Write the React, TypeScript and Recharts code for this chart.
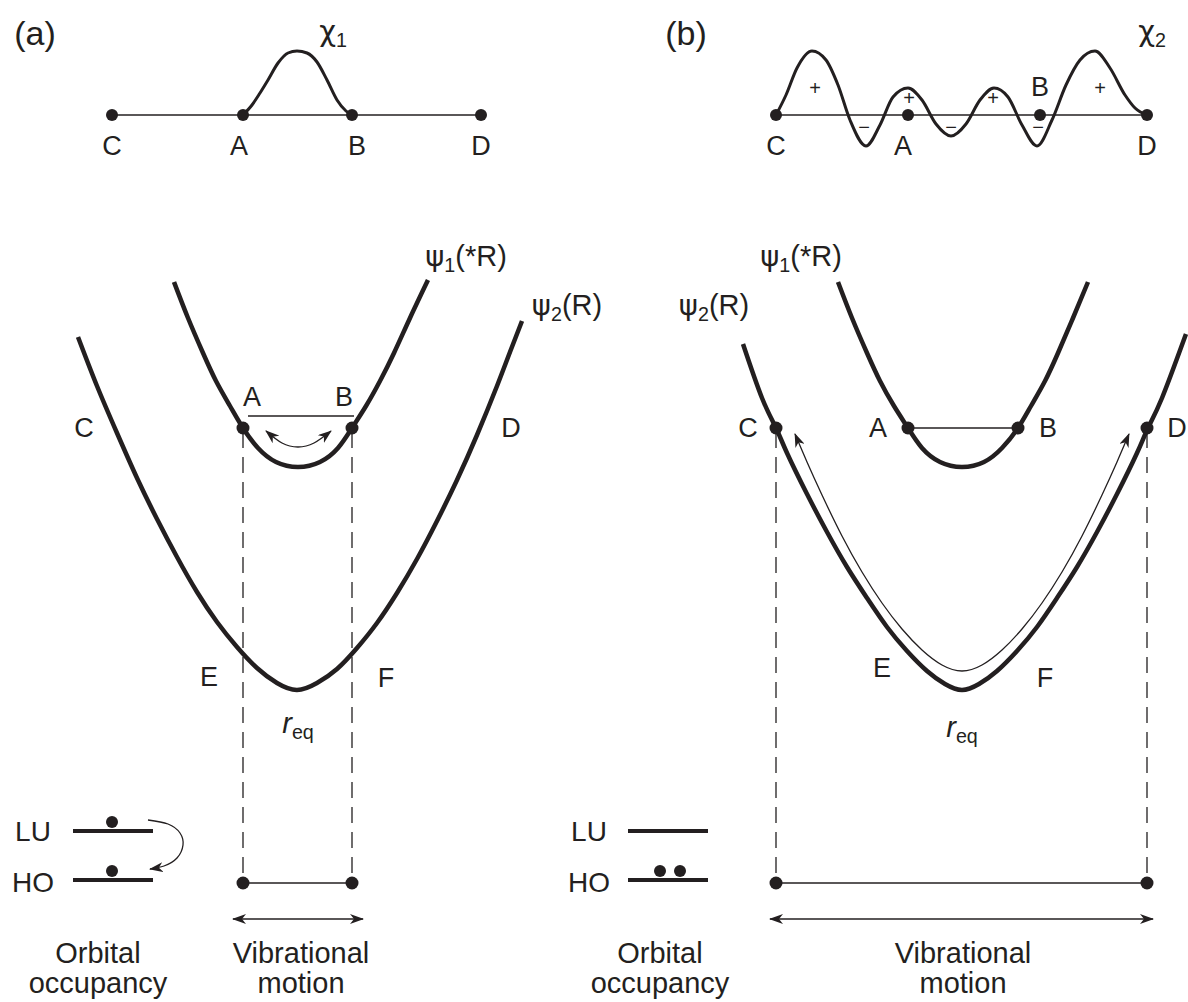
import React from "react";
import { ComposedChart, Line, Scatter, XAxis, YAxis } from "recharts";

const W = 1188;
const H = 1002;
const INK = "#231f20";
const FONT = "'Liberation Sans', Arial, Helvetica, sans-serif";
const GREEK = "'DejaVu Sans', 'Liberation Sans', sans-serif";

type Pt = { x: number; y: number };

// ---- (a) top: chi_1 on the C..D coordinate
const chi1Axis: Pt[] = [{ x: 112, y: 115 }, { x: 481, y: 115 }];
const chi1Wave: Pt[] = [
  { x: 243, y: 115 }, { x: 252, y: 105 }, { x: 260, y: 93 }, { x: 268, y: 80 },
  { x: 278, y: 63 }, { x: 288, y: 53 }, { x: 297, y: 51 }, { x: 307, y: 53 },
  { x: 317, y: 62 }, { x: 327, y: 80 }, { x: 337, y: 100 }, { x: 346, y: 111 },
  { x: 352, y: 115 },
];
const chi1Dots: Pt[] = [{ x: 112, y: 115 }, { x: 243, y: 115 }, { x: 352, y: 115 }, { x: 481, y: 115 }];

// ---- (b) top: chi_2
const chi2Axis: Pt[] = [{ x: 776, y: 115 }, { x: 1147, y: 115 }];
const chi2Wave: Pt[] = [
  { x: 776, y: 115 }, { x: 786, y: 95 }, { x: 797, y: 68 }, { x: 812, y: 51 },
  { x: 826, y: 60 }, { x: 838, y: 85 }, { x: 850, y: 120 }, { x: 866, y: 146 },
  { x: 880, y: 125 }, { x: 893, y: 97 }, { x: 908, y: 88 }, { x: 922, y: 100 },
  { x: 936, y: 124 }, { x: 951, y: 136 }, { x: 966, y: 124 }, { x: 980, y: 100 },
  { x: 994, y: 88 }, { x: 1008, y: 97 }, { x: 1022, y: 125 }, { x: 1037, y: 146 },
  { x: 1052, y: 120 }, { x: 1066, y: 85 }, { x: 1080, y: 60 }, { x: 1095, y: 51 },
  { x: 1110, y: 68 }, { x: 1125, y: 95 }, { x: 1135, y: 108 }, { x: 1147, y: 115 },
];
const chi2Dots: Pt[] = [{ x: 776, y: 115 }, { x: 908, y: 115 }, { x: 1040, y: 115 }, { x: 1147, y: 115 }];

// ---- (a) potential curves
const psi1A: Pt[] = [
  { x: 174, y: 282 }, { x: 188, y: 318 }, { x: 203, y: 353 }, { x: 216, y: 381 },
  { x: 230, y: 406 }, { x: 243, y: 428 }, { x: 258, y: 448 }, { x: 276, y: 462 },
  { x: 298, y: 467 }, { x: 320, y: 462 }, { x: 338, y: 448 }, { x: 352, y: 428 },
  { x: 366, y: 406 }, { x: 380, y: 381 }, { x: 394, y: 353 }, { x: 410, y: 318 },
  { x: 428, y: 280 },
];
const psi2A: Pt[] = [
  { x: 78, y: 337 }, { x: 97, y: 386 }, { x: 117, y: 433 }, { x: 137, y: 478 },
  { x: 157, y: 519 }, { x: 177, y: 557 }, { x: 197, y: 592 }, { x: 217, y: 622 },
  { x: 237, y: 647 }, { x: 257, y: 668 }, { x: 277, y: 683 }, { x: 297, y: 690 },
  { x: 317, y: 683 }, { x: 337, y: 669 }, { x: 357, y: 648 }, { x: 377, y: 623 },
  { x: 397, y: 593 }, { x: 417, y: 559 }, { x: 437, y: 521 }, { x: 457, y: 480 },
  { x: 477, y: 435 }, { x: 497, y: 386 }, { x: 510, y: 352 }, { x: 522, y: 321 },
];
const abLevelA: Pt[] = [{ x: 248, y: 416 }, { x: 354, y: 416 }];
const swingA: Pt[] = [{ x: 266, y: 431 }, { x: 282, y: 443 }, { x: 298, y: 447 }, { x: 314, y: 443 }, { x: 331, y: 431 }];
const dropA1: Pt[] = [{ x: 243, y: 432 }, { x: 243, y: 874 }];
const dropA2: Pt[] = [{ x: 352, y: 432 }, { x: 352, y: 874 }];
const spanA: Pt[] = [{ x: 243, y: 883 }, { x: 352, y: 883 }];
const motionA: Pt[] = [{ x: 233, y: 919 }, { x: 363, y: 919 }];
const curveDotsA: Pt[] = [{ x: 243, y: 428 }, { x: 352, y: 428 }, { x: 243, y: 883 }, { x: 352, y: 883 }];

// ---- (a) orbitals
const luA: Pt[] = [{ x: 73, y: 831 }, { x: 153, y: 831 }];
const hoA: Pt[] = [{ x: 73, y: 880 }, { x: 153, y: 880 }];
const hopA: Pt[] = [
  { x: 148, y: 820 }, { x: 168, y: 824 }, { x: 180, y: 833 }, { x: 183, y: 845 },
  { x: 177, y: 858 }, { x: 164, y: 866 }, { x: 150, y: 869 },
];
const electronsA: Pt[] = [{ x: 112, y: 822 }, { x: 112, y: 871 }];

// ---- (b) potential curves
const psi1B: Pt[] = [
  { x: 838, y: 282 }, { x: 852, y: 318 }, { x: 867, y: 353 }, { x: 880, y: 381 },
  { x: 894, y: 406 }, { x: 908, y: 428 }, { x: 922, y: 448 }, { x: 940, y: 462 },
  { x: 962, y: 467 }, { x: 984, y: 462 }, { x: 1002, y: 448 }, { x: 1018, y: 428 },
  { x: 1031, y: 406 }, { x: 1045, y: 381 }, { x: 1058, y: 353 }, { x: 1073, y: 318 },
  { x: 1088, y: 282 },
];
const psi2B: Pt[] = [
  { x: 743, y: 344 }, { x: 762, y: 398 }, { x: 776, y: 428 }, { x: 787, y: 453 },
  { x: 807, y: 494 }, { x: 827, y: 532 }, { x: 847, y: 567 }, { x: 867, y: 598 },
  { x: 887, y: 627 }, { x: 907, y: 651 }, { x: 927, y: 671 }, { x: 945, y: 684 },
  { x: 962, y: 690 }, { x: 979, y: 684 }, { x: 997, y: 671 }, { x: 1017, y: 651 },
  { x: 1037, y: 627 }, { x: 1057, y: 598 }, { x: 1077, y: 567 }, { x: 1097, y: 532 },
  { x: 1117, y: 494 }, { x: 1137, y: 453 }, { x: 1148, y: 428 }, { x: 1162, y: 398 },
  { x: 1186, y: 334 },
];
const swingB: Pt[] = [
  { x: 795, y: 434 }, { x: 807, y: 462 }, { x: 822, y: 495 }, { x: 842, y: 536 },
  { x: 862, y: 572 }, { x: 882, y: 603 }, { x: 902, y: 629 }, { x: 922, y: 650 },
  { x: 942, y: 665 }, { x: 962, y: 671 }, { x: 982, y: 665 }, { x: 1002, y: 650 },
  { x: 1022, y: 629 }, { x: 1042, y: 603 }, { x: 1062, y: 572 }, { x: 1082, y: 536 },
  { x: 1102, y: 495 }, { x: 1117, y: 462 }, { x: 1129, y: 434 },
];
const abLevelB: Pt[] = [{ x: 908, y: 428 }, { x: 1018, y: 428 }];
const dropB1: Pt[] = [{ x: 776, y: 432 }, { x: 776, y: 874 }];
const dropB2: Pt[] = [{ x: 1147, y: 432 }, { x: 1147, y: 874 }];
const spanB: Pt[] = [{ x: 776, y: 883 }, { x: 1147, y: 883 }];
const motionB: Pt[] = [{ x: 770, y: 919 }, { x: 1153, y: 919 }];
const curveDotsB: Pt[] = [
  { x: 776, y: 428 }, { x: 908, y: 428 }, { x: 1018, y: 428 }, { x: 1147, y: 428 },
  { x: 776, y: 883 }, { x: 1147, y: 883 },
];

// ---- (b) orbitals
const luB: Pt[] = [{ x: 628, y: 831 }, { x: 708, y: 831 }];
const hoB: Pt[] = [{ x: 628, y: 880 }, { x: 708, y: 880 }];
const electronsB: Pt[] = [{ x: 660, y: 871 }, { x: 680, y: 871 }];

// ---- text
const panelTags = [{ x: 35, y: 33, t: "(a)" }, { x: 686, y: 33, t: "(b)" }];
const letterTags = [
  { x: 112, y: 146, t: "C" }, { x: 239, y: 146, t: "A" }, { x: 357, y: 146, t: "B" }, { x: 481, y: 146, t: "D" },
  { x: 776, y: 146, t: "C" }, { x: 903, y: 146, t: "A" }, { x: 1040, y: 87, t: "B" }, { x: 1147, y: 146, t: "D" },
  { x: 84, y: 428, t: "C" }, { x: 252, y: 397, t: "A" }, { x: 344, y: 397, t: "B" }, { x: 511, y: 428, t: "D" },
  { x: 209, y: 677, t: "E" }, { x: 386, y: 678, t: "F" },
  { x: 748, y: 428, t: "C" }, { x: 878, y: 428, t: "A" }, { x: 1048, y: 428, t: "B" }, { x: 1177, y: 428, t: "D" },
  { x: 882, y: 668, t: "E" }, { x: 1045, y: 678, t: "F" },
];
const plusTags = [
  { x: 815, y: 88, t: "+" }, { x: 909, y: 98, t: "+" }, { x: 993, y: 98, t: "+" }, { x: 1100, y: 88, t: "+" },
];
const minusTags = [{ x: 864, y: 127, t: "\u2212" }, { x: 951, y: 127, t: "\u2212" }, { x: 1038, y: 127, t: "\u2212" }];
const symbolTags = [
  { x: 333, y: 31, t: "\u03c7", sub: "1" },
  { x: 1152, y: 31, t: "\u03c7", sub: "2" },
  { x: 466, y: 256, t: "\u03c8", sub: "1", tail: "(*R)" },
  { x: 567, y: 305, t: "\u03c8", sub: "2", tail: "(R)" },
  { x: 801, y: 256, t: "\u03c8", sub: "1", tail: "(*R)" },
  { x: 714, y: 305, t: "\u03c8", sub: "2", tail: "(R)" },
  { x: 298, y: 723, t: "r", sub: "eq", it: true },
  { x: 962, y: 727, t: "r", sub: "eq", it: true },
];
const levelTags = [
  { x: 33, y: 831, t: "LU" }, { x: 33, y: 882, t: "HO" },
  { x: 589, y: 831, t: "LU" }, { x: 589, y: 882, t: "HO" },
];
const captionTags = [
  { x: 98, y: 953, t: "Orbital" }, { x: 98, y: 983, t: "occupancy" },
  { x: 301, y: 953, t: "Vibrational" }, { x: 301, y: 983, t: "motion" },
  { x: 660, y: 953, t: "Orbital" }, { x: 660, y: 983, t: "occupancy" },
  { x: 963, y: 953, t: "Vibrational" }, { x: 963, y: 983, t: "motion" },
];

const isGreek = (s: string) => /[\u0370-\u03ff]/.test(s);

const textShape = (size: number) => (props: any) => {
  const { cx, cy, payload } = props;
  const { t, sub, tail, it } = payload;
  return (
    <text
      x={cx}
      y={cy}
      fontSize={size}
      fontFamily={FONT}
      fill={INK}
      textAnchor="middle"
      dominantBaseline="central"
    >
      <tspan fontStyle={it ? "italic" : undefined} fontFamily={isGreek(t) ? GREEK : undefined}>
        {t}
      </tspan>
      {sub ? (
        <tspan fontSize={size * 0.68} dy={size * 0.32}>
          {sub}
        </tspan>
      ) : null}
      {tail ? <tspan dy={-size * 0.32}>{tail}</tspan> : null}
    </text>
  );
};

const dotShape = (r: number) => (props: any) => <circle cx={props.cx} cy={props.cy} r={r} fill={INK} />;

export default function App() {
  const heavy = 4.5;
  const dashed = "16 9";
  const traces = [
    { d: chi1Axis, w: 1.5 },
    { d: chi1Wave, w: 3, curve: "monotone" },
    { d: chi2Axis, w: 1.5 },
    { d: chi2Wave, w: 3, curve: "monotone" },
    { d: psi1A, w: heavy, curve: "natural" },
    { d: psi2A, w: heavy, curve: "natural" },
    { d: abLevelA, w: 1.5 },
    { d: swingA, w: 1.3, curve: "natural", both: true },
    { d: dropA1, w: 1.3, dash: dashed },
    { d: dropA2, w: 1.3, dash: dashed },
    { d: spanA, w: 1.5 },
    { d: motionA, w: 1.5, both: true },
    { d: luA, w: 4 },
    { d: hoA, w: 4 },
    { d: hopA, w: 1.3, curve: "natural", end: true },
    { d: psi1B, w: heavy, curve: "natural" },
    { d: psi2B, w: heavy, curve: "natural" },
    { d: swingB, w: 1.3, curve: "natural", both: true },
    { d: abLevelB, w: 1.5 },
    { d: dropB1, w: 1.3, dash: dashed },
    { d: dropB2, w: 1.3, dash: dashed },
    { d: spanB, w: 1.5 },
    { d: motionB, w: 1.5, both: true },
    { d: luB, w: 4 },
    { d: hoB, w: 4 },
  ];

  return (
    <div style={{ position: "absolute", left: 0, top: 0, width: W, height: H, background: "#fff" }}>
      <svg width={0} height={0} style={{ position: "absolute" }}>
        <defs>
          <marker
            id="tip"
            viewBox="0 0 14 10"
            refX="13"
            refY="5"
            markerWidth="14"
            markerHeight="10"
            markerUnits="userSpaceOnUse"
            orient="auto-start-reverse"
          >
            <path d="M0,0 L14,5 L0,10 L4,5 Z" fill={INK} />
          </marker>
        </defs>
      </svg>
      <ComposedChart width={W} height={H} margin={{ top: 0, right: 0, bottom: 0, left: 0 }}>
        <XAxis type="number" dataKey="x" domain={[0, W]} hide allowDataOverflow />
        <YAxis type="number" dataKey="y" domain={[0, H]} hide reversed allowDataOverflow />
        {traces.map((s, i) => (
          <Line
            key={i}
            data={s.d}
            dataKey="y"
            type={(s.curve as any) || "linear"}
            stroke={INK}
            strokeWidth={s.w}
            strokeDasharray={s.dash}
            dot={false}
            activeDot={false}
            isAnimationActive={false}
            markerStart={s.both ? "url(#tip)" : undefined}
            markerEnd={s.both || s.end ? "url(#tip)" : undefined}
          />
        ))}
        <Scatter data={chi1Dots} shape={dotShape(6)} isAnimationActive={false} />
        <Scatter data={chi2Dots} shape={dotShape(6)} isAnimationActive={false} />
        <Scatter data={curveDotsA} shape={dotShape(6.5)} isAnimationActive={false} />
        <Scatter data={curveDotsB} shape={dotShape(6.5)} isAnimationActive={false} />
        <Scatter data={electronsA} shape={dotShape(6)} isAnimationActive={false} />
        <Scatter data={electronsB} shape={dotShape(6)} isAnimationActive={false} />
        <Scatter data={panelTags} shape={textShape(34)} isAnimationActive={false} />
        <Scatter data={letterTags} shape={textShape(27)} isAnimationActive={false} />
        <Scatter data={plusTags} shape={textShape(20)} isAnimationActive={false} />
        <Scatter data={minusTags} shape={textShape(20)} isAnimationActive={false} />
        <Scatter data={symbolTags} shape={textShape(29)} isAnimationActive={false} />
        <Scatter data={levelTags} shape={textShape(28)} isAnimationActive={false} />
        <Scatter data={captionTags} shape={textShape(29)} isAnimationActive={false} />
      </ComposedChart>
    </div>
  );
}
